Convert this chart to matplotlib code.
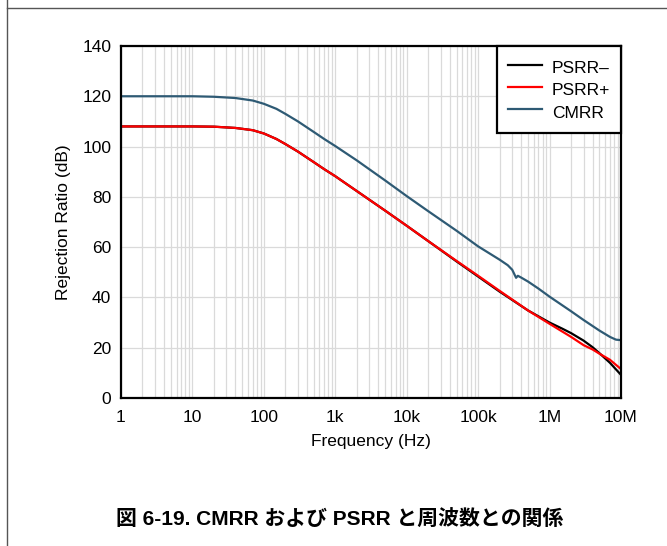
import matplotlib
matplotlib.use("Agg")
import matplotlib.pyplot as plt
from matplotlib.lines import Line2D
from matplotlib.ticker import LogLocator, NullFormatter

plt.rcParams['font.family'] = ['Liberation Sans', 'Noto Sans CJK JP', 'DejaVu Sans']

# CMRR (dB) vs frequency (Hz)
freq_cmrr = [1, 10, 20, 40, 70, 100, 150, 200, 300, 500, 700, 1e3, 2e3, 5e3, 1e4, 2e4,
             5e4, 1e5, 2e5, 2.6e5, 3.0e5, 3.4e5, 3.6e5, 4e5, 5e5, 7e5, 1e6, 2e6, 3e6,
             5e6, 7e6, 8.5e6, 1e7]
cmrr = [120, 120, 119.8, 119.3, 118.3, 117, 115, 113, 110, 105.8, 103, 100.2, 94.5, 86.5,
        80.3, 74.3, 66.5, 60.3, 55.0, 52.8, 51.0, 47.8, 48.6, 47.9, 46.3, 43.5, 40.3, 34.5,
        31, 26.8, 24.3, 23.2, 23]

# PSRR+ (dB)
freq_psrr_p = [1, 10, 20, 40, 70, 100, 150, 200, 300, 500, 700, 1e3, 2e3, 5e3, 1e4, 2e4,
               5e4, 1e5, 2e5, 5e5, 1e6, 2e6, 3e6, 4e6, 5e6, 7e6, 1e7]
psrr_p = [108, 108, 107.9, 107.4, 106.5, 105.2, 103, 101, 98, 93.8, 91, 88.2, 82.3, 74.5,
          68.5, 62.4, 54.5, 48.6, 42.6, 34.8, 29.5, 24.3, 21.0, 19.3, 17.6, 15.2, 11.5]

# PSRR- (dB)
freq_psrr_m = [1, 10, 20, 40, 70, 100, 150, 200, 300, 500, 700, 1e3, 2e3, 5e3, 1e4, 2e4,
               5e4, 1e5, 2e5, 5e5, 1e6, 1.5e6, 2e6, 3e6, 4e6, 5e6, 7e6, 1e7]
psrr_m = [108, 108, 107.9, 107.4, 106.5, 105.2, 103, 101, 98, 93.8, 91, 88.2, 82.3, 74.5,
          68.5, 62.4, 54.3, 48.3, 42.3, 34.8, 30.0, 27.6, 25.8, 22.8, 20.2, 17.8, 14.0, 9.2]

x_ticks = [1, 10, 100, 1e3, 1e4, 1e5, 1e6, 1e7]
x_labels = ['1', '10', '100', '1k', '10k', '100k', '1M', '10M']
y_ticks = [0, 20, 40, 60, 80, 100, 120, 140]

fig = plt.figure(figsize=(6.67, 5.46), dpi=100)
ax = fig.add_axes([0.1814, 0.2711, 0.7496, 0.6447])

ax.plot(freq_psrr_m, psrr_m, color='black', lw=1.6, label='PSRR–')
ax.plot(freq_psrr_p, psrr_p, color='#ff0000', lw=1.6, label='PSRR+')
ax.plot(freq_cmrr, cmrr, color='#2e5a74', lw=1.6, label='CMRR')

ax.set_xscale('log')
ax.set_xlim(1, 1e7)
ax.set_ylim(0, 140)
ax.set_xticks(x_ticks)
ax.set_xticklabels(x_labels)
ax.xaxis.set_minor_locator(LogLocator(base=10, subs=range(2, 10), numticks=20))
ax.xaxis.set_minor_formatter(NullFormatter())
ax.set_yticks(y_ticks)
ax.tick_params(which='both', length=0, labelsize=12.5, colors='black')
ax.tick_params(axis='x', pad=9)
ax.tick_params(axis='y', pad=7)

ax.grid(True, which='both', axis='x', color='#dadada', lw=0.9)
ax.grid(True, which='major', axis='y', color='#dadada', lw=0.9)
ax.set_axisbelow(True)

for s in ax.spines.values():
    s.set_linewidth(1.6)
    s.set_color('black')

ax.set_xlabel('Frequency (Hz)', fontsize=12.5, labelpad=6)
ax.set_ylabel('Rejection Ratio (dB)', fontsize=12.5, labelpad=8)

leg = ax.legend(loc='upper right', borderaxespad=0, fancybox=False, fontsize=12.5,
                handlelength=2.0, handleheight=1.45, handletextpad=0.55,
                borderpad=0.62, labelspacing=0.1)
leg.get_frame().set_edgecolor('black')
leg.get_frame().set_linewidth(1.6)
leg.get_frame().set_alpha(1)

# page frame lines
fig.add_artist(Line2D([7 / 667, 7 / 667], [0, 1], color='#555555', lw=1))
fig.add_artist(Line2D([7 / 667, 1], [1 - 8 / 546, 1 - 8 / 546], color='#555555', lw=1))

fig.text(340 / 667, 1 - 520 / 546, '図 6-19. CMRR および PSRR と周波数との関係',
         ha='center', va='center', fontsize=15, fontweight='bold')

fig.savefig('out.png', dpi=100)
